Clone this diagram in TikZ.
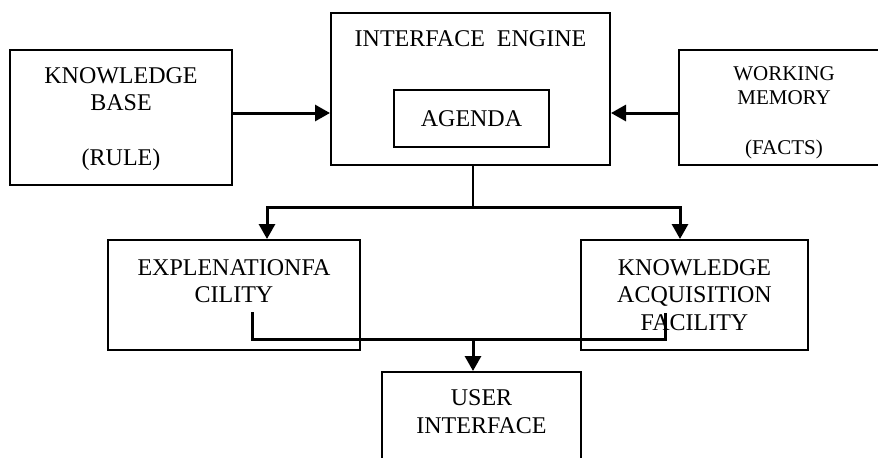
\documentclass[tikz,border=0pt]{standalone}
\usepackage{fontspec}
\setmainfont{Liberation Serif}
\usetikzlibrary{positioning,arrows.meta}

\begin{document}
\begin{tikzpicture}[
      x=0.5pt, y=-0.5pt,
      >={Triangle[length=7.5pt,width=8pt]},
      box/.style={draw,rectangle,line width=1pt,inner sep=0pt,
                  align=center,font=\fontsize{12}{13.75}\selectfont},
      txt/.style={align=center,inner sep=0pt,font=\fontsize{12}{13.75}\selectfont},
      msg/.style={->, line width=1.5pt},
      link/.style={line width=1.5pt}
    ]
    \useasboundingbox (0,0) rectangle (878,457);
    \clip (0,0) rectangle (878,457);

    % Inference engine with its agenda
    \node[box, minimum width=139.5pt, minimum height=76pt] (ie) at (470.5,89) {};
    \node[txt] (ietitle) at (470.5,38.5) {INTERFACE\ \ ENGINE};
    \node[box, minimum width=77.5pt, minimum height=28.5pt] (agenda) at (471.5,118.5) {AGENDA};

    % Knowledge base and working memory
    \node[box, minimum width=111pt, minimum height=67.5pt] (kb) at (121,117.5) {};
    \node[txt] (kbtitle) at (121,119) {KNOWLEDGE\\BASE\\[13.75pt](RULE)};
    \node[box, minimum width=105pt, minimum height=57.5pt] (wm) at (784,107.5) {};
    \node[txt, font=\fontsize{10.5}{12.3}\selectfont] (wmtitle) at (784,112.5)
          {WORKING\\MEMORY\\[12.3pt](FACTS)};

    % Facilities
    \node[box, minimum width=126pt, minimum height=55pt] (ef) at (234,295) {};
    \node[txt] (eftitle) at (234,281) {EXPLENATIONFA\\CILITY};
    \node[box, minimum width=113.5pt, minimum height=55pt] (kaf) at (694.5,295)
          {KNOWLEDGE\\ACQUISITION\\FACILITY};

    % User interface
    \node[box, minimum width=99.5pt, minimum height=54pt] (ui) at (481.5,426) {};
    \node[txt] (uititle) at (481.5,411.5) {USER\\INTERFACE};

    % Inputs to the engine
    \draw[msg] ([yshift=2.25pt]kb.east) -- ([yshift=2.25pt]kb.east -| ie.west);
    \draw[msg] ([yshift=-2.75pt]wm.west) -- ([yshift=-2.75pt]wm.west -| ie.east);

    % Engine to the facilities
    \coordinate (split) at (473,207);
    \draw[line width=1pt] (ie.south -| split) -- (split);
    \draw[msg] (split) -| ([xshift=16.5pt]ef.north);
    \draw[msg] (split) -| ([xshift=-7.25pt]kaf.north);

    % Facilities to the user interface
    \coordinate (efout) at (252,312);
    \coordinate (kafout) at (665,313);
    \coordinate (join) at (473,339);
    \draw[link] (efout) |- (join) -| (kafout);
    \draw[msg] (join) -- (ui.north -| join);

  \end{tikzpicture}
\end{document}
